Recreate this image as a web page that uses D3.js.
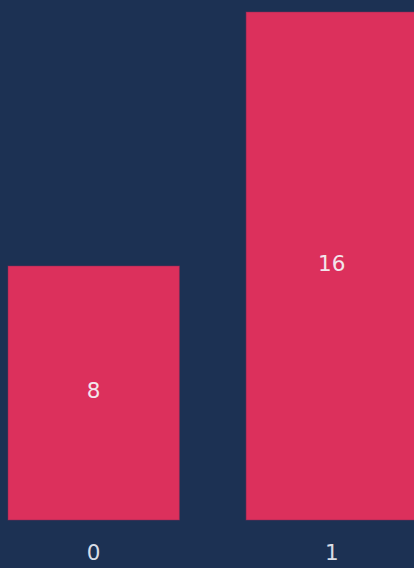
<!DOCTYPE html>
<html><head><meta charset="utf-8">
<script src="https://cdn.jsdelivr.net/npm/d3@7"></script>
<style>html,body{margin:0;padding:0;background:#1c3153;overflow:hidden}</style>
</head><body>
<svg id="c" width="414" height="568"></svg>
<script>
const categories = ["0", "1"];
const values = [8, 16];

const svg = d3.select("#c");
svg.append("rect").attr("width", 414).attr("height", 568).attr("fill", "#1c3153");

const x = d3.scaleBand().domain(categories).range([8, 417.5]).paddingInner(0.28).paddingOuter(0);
const y = d3.scaleLinear().domain([0, 16]).range([520, 12]);

const g = svg.append("g");
g.selectAll("rect.bar").data(categories).join("rect")
  .attr("class", "bar")
  .attr("x", d => x(d))
  .attr("y", (d, i) => y(values[i]))
  .attr("width", x.bandwidth())
  .attr("height", (d, i) => y(0) - y(values[i]))
  .attr("fill", "#dc305c")
  .attr("stroke", "#8a2a55")
  .attr("stroke-opacity", 0.5)
  .attr("stroke-width", 1);

g.selectAll("text.val").data(categories).join("text")
  .attr("class", "val")
  .attr("x", d => x(d) + x.bandwidth() / 2)
  .attr("y", (d, i) => (y(values[i]) + y(0)) / 2 - 3)
  .attr("text-anchor", "middle")
  .attr("dominant-baseline", "central")
  .attr("font-family", "DejaVu Sans")
  .attr("font-size", 21.5)
  .attr("fill", "#f2e6ec")
  .text((d, i) => values[i]);

const axis = d3.axisBottom(x).tickSize(0).tickPadding(0);
const ax = svg.append("g").attr("transform", "translate(0,520)").call(axis);
ax.select(".domain").remove();
ax.selectAll("text")
  .attr("y", 32)
  .attr("dy", null)
  .attr("dominant-baseline", "central")
  .attr("font-family", "DejaVu Sans")
  .attr("font-size", 21.5)
  .attr("fill", "#d8dde6");
</script>
</body></html>
